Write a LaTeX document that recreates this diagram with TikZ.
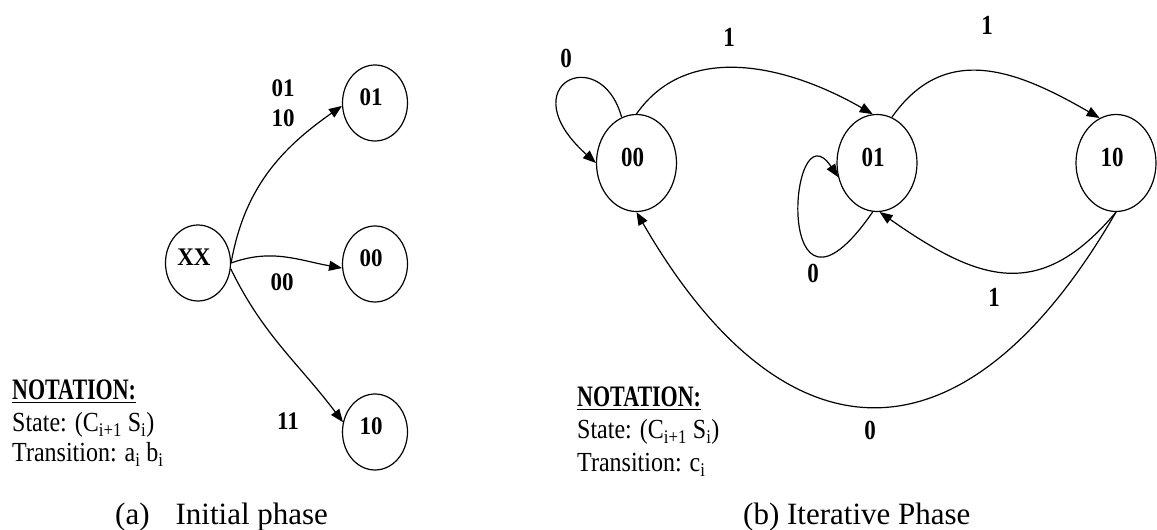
\documentclass[tikz,border=0pt]{standalone}
\usepackage{fontspec}
\setmainfont{Liberation Serif}
\usepackage{graphicx}
\usetikzlibrary{arrows.meta,shapes.geometric}
\newcommand\yst[2]{\scalebox{1}[#1]{#2}}
\newcommand\stxt[2]{\hspace*{-8pt}\raisebox{12pt}{\yst{#1}{#2}}}
\begin{document}
\begin{tikzpicture}[x=1pt,y=1pt,
  stnode/.style={draw,ellipse,line width=1.2pt,inner sep=0pt,font=\fontsize{23}{23}\selectfont\bfseries},
  sstate/.style={stnode,minimum width=65pt,minimum height=76pt},
  bstate/.style={stnode,minimum width=80pt,minimum height=97pt},
  tr/.style={line width=1.2pt,-{Triangle[length=13pt,width=10pt]}},
  lbl/.style={inner sep=0pt,font=\fontsize{23}{23}\selectfont\bfseries},
  notetxt/.style={inner sep=0pt,anchor=base west,font=\fontsize{24}{24}\selectfont},
  notehead/.style={inner sep=0pt,anchor=base west,font=\fontsize{22}{22}\selectfont\bfseries},
  captxt/.style={inner sep=0pt,anchor=base west,font=\fontsize{31}{31}\selectfont}]
\useasboundingbox (0,0) rectangle (1157,530);
% ---------- (a) initial phase ----------
\node[sstate] (XX)  at (198,267) {\stxt{1.1}{XX}};
\node[sstate] (L01) at (375,427) {\stxt{1.1}{01}};
\node[sstate] (L00) at (375,266) {\stxt{1.1}{00}};
\node[sstate] (L10) at (375,98)  {\stxt{1.1}{10}};
\draw[tr] (XX.east) to[out=80,in=215] (L01.185);
\draw[tr] (XX.east) to[out=20,in=170] (L00.187);
\draw[tr] (XX.-10) to[out=-64,in=127] (L10.163);
\node[lbl] (la1) at (283,442) {\yst{1.1}{01}};
\node[lbl] (la2) at (283,412) {\yst{1.1}{10}};
\node[lbl] (la3) at (282,248) {\yst{1.1}{00}};
\node[lbl] (la4) at (288,109) {\yst{1.1}{11}};
\node[notehead] (na) at (12,130) {\yst{1.35}{\underline{NOTATION:}}};
\node[notetxt] (nb) at (12,98) {\yst{1.15}{State: (C\textsubscript{i+1} S\textsubscript{i})}};
\node[notetxt] (nc) at (12,68) {\yst{1.15}{Transition: a\textsubscript{i} b\textsubscript{i}}};
\node[captxt] (capa) at (115,5) {(a)\hspace{26pt}Initial phase};
% ---------- (b) iterative phase ----------
\node[bstate] (R00) at (636.5,367) {\stxt{1.2}{00}};
\node[bstate] (R01) at (877,367)   {\stxt{1.2}{01}};
\node[bstate] (R10) at (1116,367)  {\stxt{1.2}{10}};
\draw[tr] (R00.108) .. controls +(-21,76) and +(-87,78) .. (R00.west);
\draw[tr] (R00.north) to[out=55,in=150] (R01.95);
\draw[tr] (R01.72) to[out=55,in=150,looseness=1.15] (R10.110);
\draw[tr] (R01.265) .. controls +(-100,-145) and +(-50,75) .. (R01.200);
\draw[tr] (R10.south) to[out=230,in=325,looseness=1.3] (R01.-87);
\draw[tr] (R10.south) to[out=240,in=300,looseness=1.6] (R00.south);
\node[lbl] (lb1) at (566,472) {\yst{1.2}{0}};
\node[lbl] (lb2) at (729,493) {\yst{1.2}{1}};
\node[lbl] (lb3) at (987,505) {\yst{1.2}{1}};
\node[lbl] (lb4) at (813,257) {\yst{1.2}{0}};
\node[lbl] (lb5) at (994,233) {\yst{1.2}{1}};
\node[lbl] (lb6) at (870,100) {\yst{1.2}{0}};
\node[notehead] (nd) at (577,123) {\yst{1.35}{\underline{NOTATION:}}};
\node[notetxt] (ne) at (577,91) {\yst{1.15}{State: (C\textsubscript{i+1} S\textsubscript{i})}};
\node[notetxt] (nf) at (577,58) {\yst{1.15}{Transition: c\textsubscript{i}}};
\node[captxt] (capb) at (743,5) {(b) Iterative Phase};
\end{tikzpicture}
\end{document}
